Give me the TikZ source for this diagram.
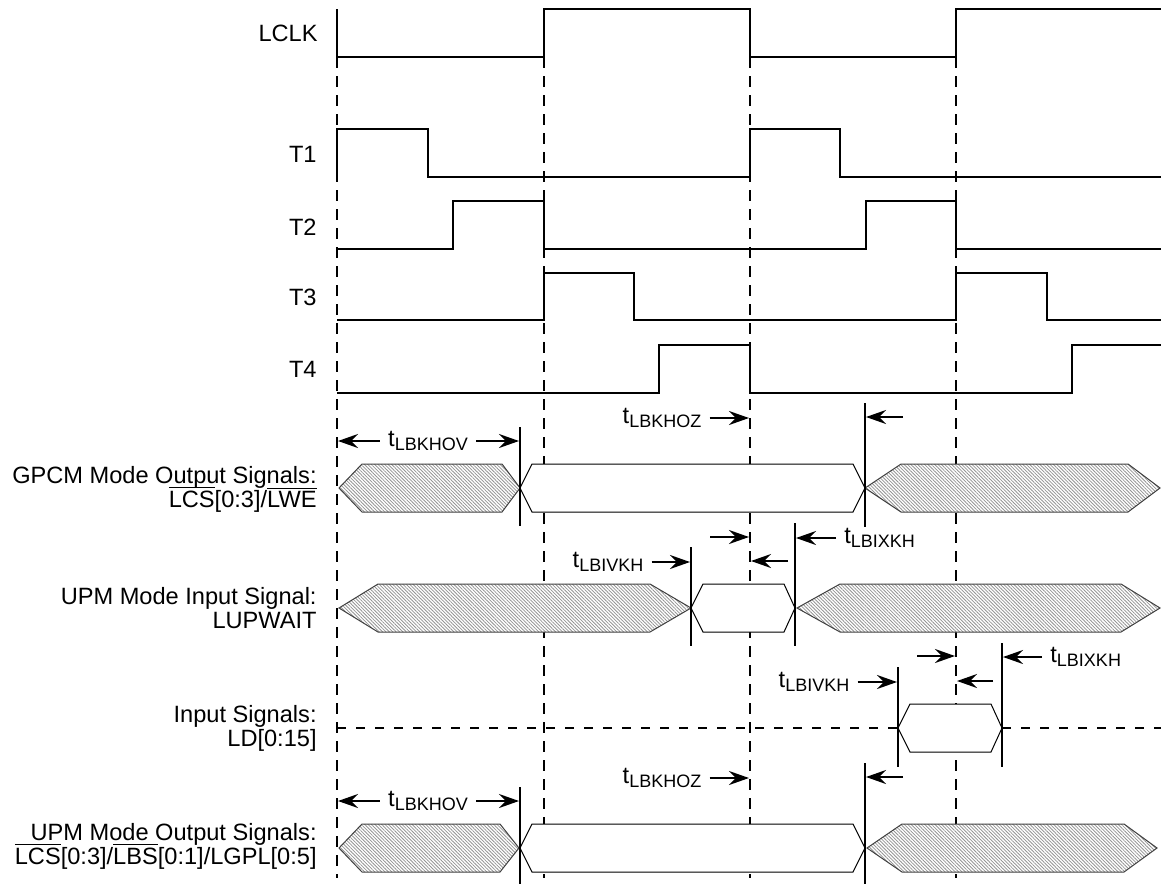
\documentclass[tikz,border=0pt]{standalone}
\usepackage{fontspec}
\setmainfont{Liberation Sans}
\usetikzlibrary{arrows.meta,patterns.meta}

\newcommand{\ovl}[1]{\smash{$\overline{\mbox{#1}}$}}
\newcommand{\tsub}[1]{t\raisebox{-2pt}{\fontsize{9}{9}\selectfont #1}}
\newcommand{\bus}[6]{\draw[#1] (#2,#6) -- (#3,#6-24) -- (#4,#6-24) -- (#5,#6) -- (#4,#6+24) -- (#3,#6+24) -- cycle;}

\begin{document}
\begin{tikzpicture}[x=0.5pt,y=-0.5pt,>={Stealth[length=10pt,width=7pt,inset=3.4pt]},
    font=\fontsize{11.8}{12}\selectfont,
    sig/.style={line width=1pt},
    grid/.style={line width=1pt,dash pattern=on 5.5pt off 4pt},
    float/.style={line width=0.7pt,dash pattern=on 4.5pt off 5pt},
    tline/.style={line width=1pt},
    hatch/.style={line width=0.5pt,draw=black!75,preaction={fill=white},
      pattern={Lines[angle=-45,distance=1.2pt,line width=0.4pt]},pattern color=black!42},
    open/.style={line width=0.5pt,draw=black,fill=white},
    lbl/.style={anchor=east,align=right,inner sep=0pt},
    tlab/.style={inner sep=4pt},
    dim/.style={->,line width=1pt,shorten >=0.5pt}]
\useasboundingbox (0,0) rectangle (1161,884);

% clock edges
\coordinate (e0) at (337,0);
\coordinate (e1) at (544,0);
\coordinate (e2) at (750,0);
\coordinate (e3) at (956,0);
\foreach \x in {337,544,750,956}
  \draw[grid] (\x,57) -- (\x,878);

% waveforms
\node[lbl] (lclk) at (318,33) {LCLK};
\node[lbl] (t1) at (317,154) {T1};
\node[lbl] (t2) at (317,227) {T2};
\node[lbl] (t3) at (317,297) {T3};
\node[lbl] (t4) at (317,369) {T4};
\draw[sig] (337,9) -- (337,57) -- (544,57) -- (544,9) -- (750,9) -- (750,57) -- (956,57) -- (956,9) -- (1161,9);
\draw[sig] (337,177) -- (337,129) -- (428,129) -- (428,177) -- (750,177) -- (750,129) -- (840,129) -- (840,177) -- (1161,177);
\draw[sig] (337,249) -- (453,249) -- (453,201) -- (544,201) -- (544,249) -- (866,249) -- (866,201) -- (956,201) -- (956,249) -- (1161,249);
\draw[sig] (337,320) -- (544,320) -- (544,273) -- (634,273) -- (634,320) -- (956,320) -- (956,273) -- (1047,273) -- (1047,320) -- (1161,320);
\draw[sig] (337,393) -- (659,393) -- (659,345) -- (750,345) -- (750,393) -- (1072,393) -- (1072,345) -- (1161,345);

% bus rows
\node[lbl] (gpcm) at (317,489) {GPCM Mode Output Signals:\\\ovl{LCS}[0:3]/\ovl{LWE}};
\node[lbl] (upmin) at (317,608) {UPM Mode Input Signal:\\LUPWAIT};
\node[lbl] (ldin) at (317,728) {Input Signals:\\LD[0:15]};
\node[lbl] (upmout) at (317,846) {UPM Mode Output Signals:\\\ovl{LCS}[0:3]/\ovl{LBS}[0:1]/LGPL[0:5]};

\draw[float] (337,728) -- (898,728);
\draw[float] (1002,728) -- (1161,728);

\bus{hatch}{339}{362}{502}{520}{488}
\bus{open}{520}{532}{853}{865}{488}
\bus{hatch}{865}{901}{1128}{1160}{488}
\bus{hatch}{339}{378}{650}{691}{608}
\bus{open}{691}{703}{784}{795}{608}
\bus{hatch}{797}{840}{1121}{1160}{608}
\bus{open}{898}{910}{991}{1002}{728}
\bus{hatch}{339}{362}{500}{519}{848}
\bus{open}{520}{532}{853}{865}{848}
\bus{hatch}{867}{902}{1124}{1157}{848}

% timing marks
\coordinate (a1) at (520,427); \coordinate (a1b) at (520,526);
\coordinate (a2) at (865,403); \coordinate (a2b) at (865,527);
\coordinate (b1) at (691,547); \coordinate (b1b) at (691,646);
\coordinate (b2) at (795,523); \coordinate (b2b) at (795,646);
\coordinate (c1) at (898,667); \coordinate (c1b) at (898,767);
\coordinate (c2) at (1002,643); \coordinate (c2b) at (1002,767);
\coordinate (a3) at (520,787); \coordinate (a3b) at (520,884);
\coordinate (a4) at (865,763); \coordinate (a4b) at (865,884);
\foreach \p in {a1,a2,b1,b2,c1,c2,a3,a4}
  \draw[tline] (\p) -- (\p b);

\node[tlab] (hov1) at (428,441) {\tsub{LBKHOV}};
\draw[dim] (hov1) -- (hov1 -| e0);
\draw[dim] (hov1) -- (hov1 -| a1);
\node[tlab] (hoz1) at (662,418) {\tsub{LBKHOZ}};
\draw[dim] (hoz1) -- (hoz1 -| e2);
\coordinate (q1) at (903,417);
\draw[dim] (q1) -- (q1 -| a2);

\node[tlab] (ivk1) at (608,562) {\tsub{LBIVKH}};
\draw[dim] (ivk1) -- (ivk1 -| b1);
\coordinate (q2) at (710,537);
\draw[dim] (q2) -- (q2 -| e2);
\coordinate (q3) at (788,561);
\draw[dim] (q3) -- (q3 -| e2);
\node[tlab,anchor=west] (ixk1) at (836,538) {\tsub{LBIXKH}};
\draw[dim] (ixk1) -- (ixk1 -| b2);

\node[tlab] (ivk2) at (814,682) {\tsub{LBIVKH}};
\draw[dim] (ivk2) -- (ivk2 -| c1);
\coordinate (q4) at (917,656);
\draw[dim] (q4) -- (q4 -| e3);
\coordinate (q5) at (993,681);
\draw[dim] (q5) -- (q5 -| e3);
\node[tlab,anchor=west] (ixk2) at (1042,657) {\tsub{LBIXKH}};
\draw[dim] (ixk2) -- (ixk2 -| c2);

\node[tlab] (hov2) at (428,801) {\tsub{LBKHOV}};
\draw[dim] (hov2) -- (hov2 -| e0);
\draw[dim] (hov2) -- (hov2 -| a3);
\node[tlab] (hoz2) at (662,778) {\tsub{LBKHOZ}};
\draw[dim] (hoz2) -- (hoz2 -| e2);
\coordinate (q6) at (903,777);
\draw[dim] (q6) -- (q6 -| a4);
\end{tikzpicture}
\end{document}
